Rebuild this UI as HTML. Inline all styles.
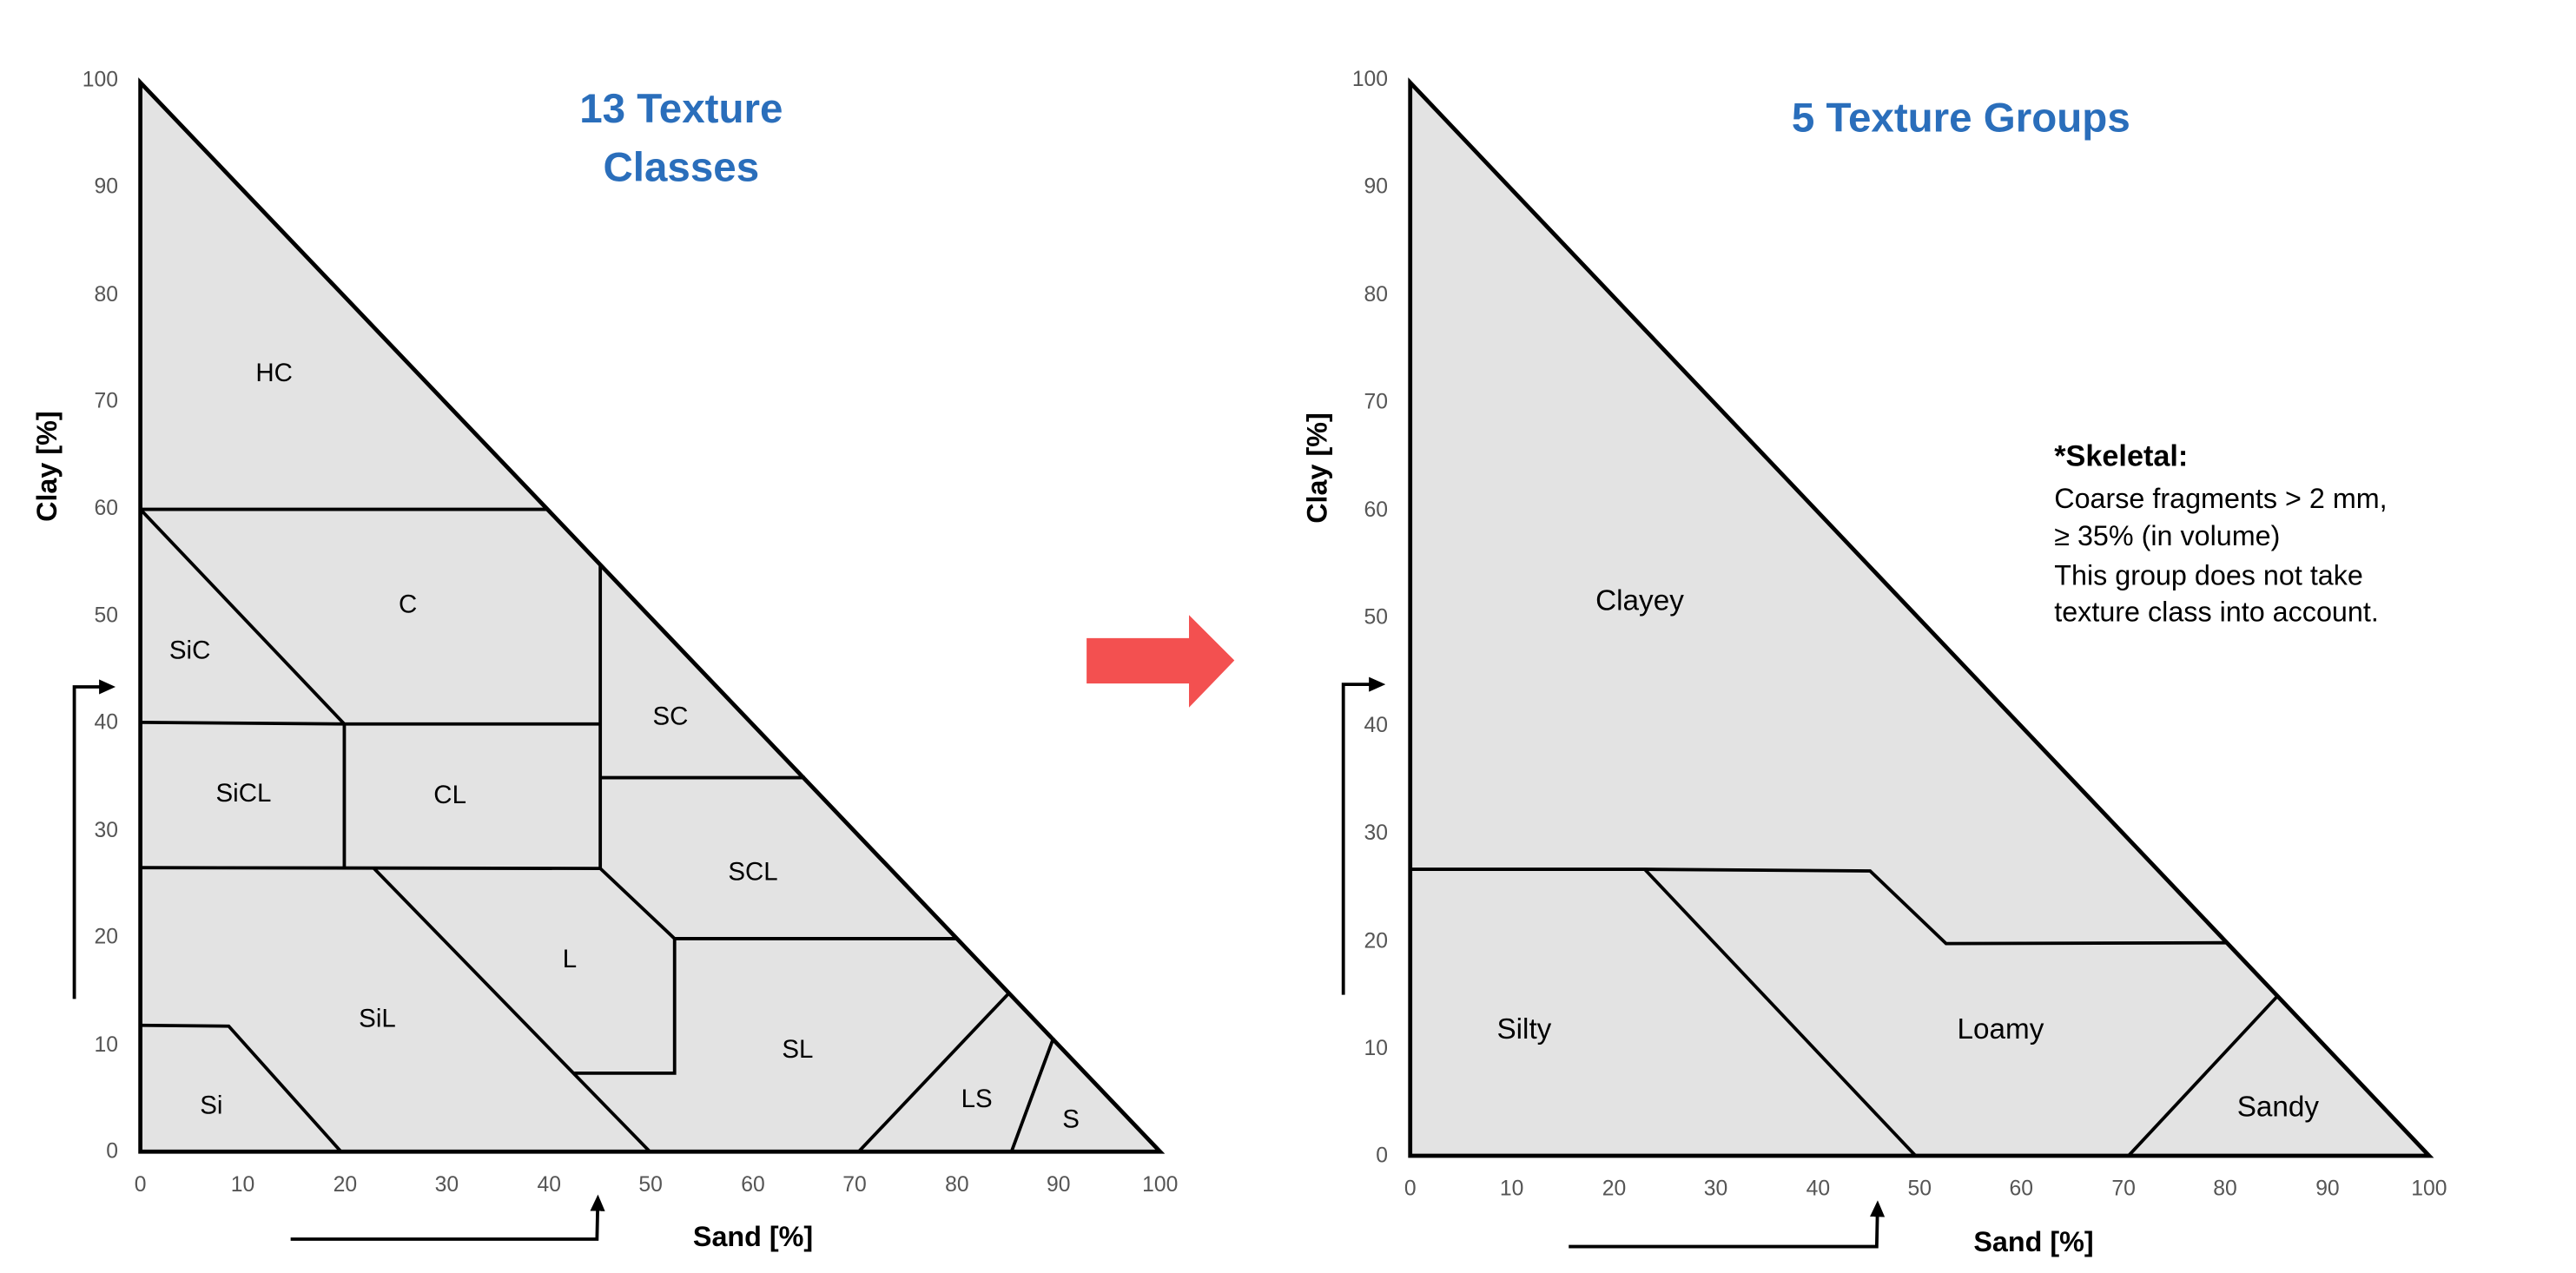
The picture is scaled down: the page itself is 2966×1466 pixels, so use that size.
<!DOCTYPE html>
<html><head><meta charset="utf-8"><style>
html,body{margin:0;padding:0;background:#fff;}
svg{display:block;}
text{font-family:"Liberation Sans",sans-serif;}
</style></head><body>
<svg width="2966" height="1466" viewBox="0 0 2966 1466" xmlns="http://www.w3.org/2000/svg">
<defs>
<marker id="ah" markerWidth="5" markerHeight="4.5" refX="3" refY="2.25" orient="auto" markerUnits="strokeWidth"><path d="M0,0 L5,2.25 L0,4.5 z" fill="#000"/></marker>
</defs>
<g transform="scale(0.9507)">
<polygon points="170,100 170,1395 1405,1395" fill="#e3e3e3" stroke="#000" stroke-width="5" stroke-linejoin="miter"/>
<g fill="none" stroke="#000" stroke-width="4">
<line x1="170" y1="617" x2="662" y2="617"/>
<line x1="170" y1="617" x2="417" y2="877"/>
<polyline points="170,875 417,877 727,877"/>
<line x1="417" y1="877" x2="417" y2="1051"/>
<line x1="727" y1="685" x2="727" y2="1052"/>
<line x1="727" y1="942" x2="975" y2="942"/>
<line x1="170" y1="1051" x2="727" y2="1052"/>
<line x1="452" y1="1051" x2="787" y2="1395"/>
<polyline points="727,1052 817,1137 817,1300 695,1300"/>
<line x1="817" y1="1137" x2="1160" y2="1137"/>
<polyline points="170,1242 277,1243 413,1395"/>
<line x1="1040" y1="1395" x2="1222" y2="1203"/>
<line x1="1225" y1="1395" x2="1276" y2="1257"/>
</g>
<g font-size="31" text-anchor="middle" dominant-baseline="central" fill="#000">
<text x="332" y="452">HC</text><text x="494" y="732">C</text><text x="230" y="788">SiC</text>
<text x="812" y="868">SC</text><text x="295" y="961">SiCL</text><text x="545" y="963">CL</text>
<text x="912" y="1056">SCL</text><text x="690" y="1162">L</text><text x="457" y="1234">SiL</text>
<text x="966" y="1271">SL</text><text x="1183" y="1331">LS</text><text x="256" y="1339">Si</text><text x="1297" y="1356">S</text>
</g>
<g font-size="26" fill="#555" text-anchor="end" dominant-baseline="central">
<text x="143" y="97">100</text><text x="143" y="226">90</text><text x="143" y="357">80</text><text x="143" y="486">70</text><text x="143" y="616">60</text><text x="143" y="746">50</text><text x="143" y="875">40</text><text x="143" y="1006">30</text><text x="143" y="1135">20</text><text x="143" y="1266">10</text><text x="143" y="1395">0</text>
</g>
<g font-size="26" fill="#555" text-anchor="middle" dominant-baseline="central">
<text x="170" y="1435">0</text><text x="294" y="1435">10</text><text x="418" y="1435">20</text><text x="541" y="1435">30</text><text x="665" y="1435">40</text><text x="788" y="1435">50</text><text x="912" y="1435">60</text><text x="1035" y="1435">70</text><text x="1159" y="1435">80</text><text x="1282" y="1435">90</text><text x="1405" y="1435">100</text>
</g>
<text transform="translate(57,565) rotate(-90)" font-size="34" font-weight="bold" text-anchor="middle" dominant-baseline="central">Clay [%]</text>
<text x="912" y="1498" font-size="34" font-weight="bold" text-anchor="middle" dominant-baseline="central">Sand [%]</text>
<text x="825" y="132" font-size="50" font-weight="bold" fill="#2a6ebb" text-anchor="middle" dominant-baseline="central">13 Texture</text>
<text x="825" y="203" font-size="50" font-weight="bold" fill="#2a6ebb" text-anchor="middle" dominant-baseline="central">Classes</text>
<polyline points="90,1210 90,832 132,832" fill="none" stroke="#000" stroke-width="4" marker-end="url(#ah)"/>
<polyline points="352,1501 723,1501 724,1455" fill="none" stroke="#000" stroke-width="4" marker-end="url(#ah)"/>
<polygon points="1316,773 1440,773 1440,745 1495,800 1440,857 1440,828 1316,828" fill="#f35050"/>
</g>
<g transform="translate(1483,0) scale(0.9507)">
<polygon points="148,100 148,1400 1382,1400" fill="#e3e3e3" stroke="#000" stroke-width="5"/>
<g fill="none" stroke="#000" stroke-width="4">
<polyline points="148,1053 432,1053 705,1055 797,1143 1138,1142"/>
<line x1="432" y1="1053" x2="760" y2="1400"/>
<line x1="1018" y1="1400" x2="1198" y2="1207"/>
</g>
<g font-size="35" text-anchor="middle" dominant-baseline="central">
<text x="426" y="728">Clayey</text><text x="286" y="1247">Silty</text><text x="863" y="1247">Loamy</text><text x="1199" y="1341">Sandy</text>
</g>
<text x="928" y="553" font-size="36" font-weight="bold" dominant-baseline="central">*Skeletal:</text>
<g font-size="34" dominant-baseline="central">
<text x="928" y="604">Coarse fragments &gt; 2 mm,</text>
<text x="928" y="649">≥ 35% (in volume)</text>
<text x="928" y="697">This group does not take</text>
<text x="928" y="741">texture class into account.</text>
</g>
<g font-size="26" fill="#555" text-anchor="end" dominant-baseline="central">
<text x="121" y="96">100</text><text x="121" y="226">90</text><text x="121" y="357">80</text><text x="121" y="487">70</text><text x="121" y="618">60</text><text x="121" y="748">50</text><text x="121" y="879">40</text><text x="121" y="1009">30</text><text x="121" y="1140">20</text><text x="121" y="1270">10</text><text x="121" y="1400">0</text>
</g>
<g font-size="26" fill="#555" text-anchor="middle" dominant-baseline="central">
<text x="148" y="1440">0</text><text x="271" y="1440">10</text><text x="395" y="1440">20</text><text x="518" y="1440">30</text><text x="642" y="1440">40</text><text x="765" y="1440">50</text><text x="888" y="1440">60</text><text x="1012" y="1440">70</text><text x="1135" y="1440">80</text><text x="1259" y="1440">90</text><text x="1382" y="1440">100</text>
</g>
<text transform="translate(35,567) rotate(-90)" font-size="34" font-weight="bold" text-anchor="middle" dominant-baseline="central">Clay [%]</text>
<text x="903" y="1504" font-size="34" font-weight="bold" text-anchor="middle" dominant-baseline="central">Sand [%]</text>
<text x="815" y="143" font-size="50" font-weight="bold" fill="#2a6ebb" text-anchor="middle" dominant-baseline="central">5 Texture Groups</text>
<polyline points="67,1205 67,829 110,829" fill="none" stroke="#000" stroke-width="4" marker-end="url(#ah)"/>
<polyline points="340,1510 713,1510 714,1462" fill="none" stroke="#000" stroke-width="4" marker-end="url(#ah)"/>
</g>
</svg>
</body></html>
